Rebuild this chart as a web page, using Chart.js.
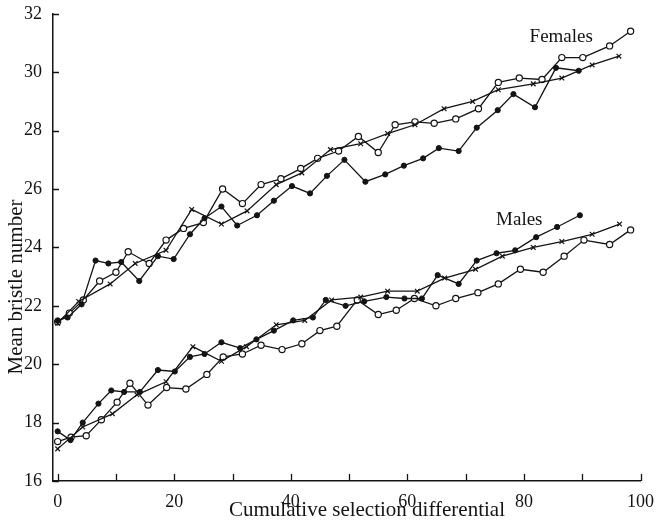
<!DOCTYPE html>
<html>
<head>
<meta charset="utf-8">
<script src="https://cdn.jsdelivr.net/npm/chart.js@4.4.0/dist/chart.umd.min.js"></script>
<style>
  html, body { margin: 0; padding: 0; background: #fff; }
  #wrap { width: 656px; height: 526px; }
</style>
</head>
<body>
<div id="wrap"><canvas id="chart" width="656" height="526"></canvas></div>
<script>
// Females, three lines (filled dots, open dots, crosses)
const femFilledX = [0, 1.7, 4.1, 6.5, 8.7, 10.9, 14.0, 17.2, 19.9, 22.7, 25.2, 28.1, 30.8, 34.2, 37.1, 40.2, 43.3, 46.2, 49.2, 52.8, 56.2, 59.4, 62.7, 65.4, 68.8, 71.9, 75.5, 78.2, 81.9, 85.5, 89.4];
const femFilledY = [21.5, 21.6, 22.05, 23.55, 23.45, 23.5, 22.85, 23.7, 23.6, 24.45, 25.0, 25.4, 24.75, 25.1, 25.6, 26.1, 25.85, 26.45, 27.0, 26.25, 26.5, 26.8, 27.05, 27.4, 27.3, 28.1, 28.7, 29.25, 28.8, 30.15, 30.05];
const femOpenX = [0, 2.0, 4.4, 7.2, 10.0, 12.1, 15.7, 18.6, 21.6, 25.0, 28.3, 31.7, 34.9, 38.3, 41.7, 44.6, 48.2, 51.6, 55.0, 57.9, 61.3, 64.6, 68.3, 72.2, 75.6, 79.2, 83.1, 86.5, 90.1, 94.7, 98.3];
const femOpenY = [21.45, 21.75, 22.2, 22.85, 23.15, 23.85, 23.45, 24.25, 24.65, 24.85, 26.0, 25.5, 26.15, 26.35, 26.7, 27.05, 27.3, 27.8, 27.25, 28.2, 28.3, 28.25, 28.4, 28.75, 29.65, 29.8, 29.75, 30.5, 30.5, 30.9, 31.4];
const femCrossX = [0, 3.6, 9.0, 13.3, 18.6, 23.0, 28.1, 32.5, 37.5, 41.9, 46.8, 52.0, 56.6, 61.3, 66.3, 71.2, 75.6, 81.6, 86.5, 91.7, 96.3];
const femCrossY = [21.4, 22.15, 22.75, 23.45, 23.9, 25.3, 24.8, 25.25, 26.15, 26.55, 27.35, 27.55, 27.9, 28.2, 28.75, 29.0, 29.4, 29.6, 29.8, 30.25, 30.55];

// Males
const maleFilledX = [0, 2.2, 4.3, 7.0, 9.2, 11.4, 14.1, 17.2, 20.1, 22.7, 25.2, 28.1, 31.3, 34.1, 37.1, 40.4, 43.8, 46.0, 49.4, 52.6, 56.4, 59.5, 62.5, 65.2, 68.8, 71.9, 75.3, 78.5, 82.1, 85.7, 89.6];
const maleFilledY = [17.7, 17.4, 18.0, 18.65, 19.1, 19.05, 19.05, 19.8, 19.75, 20.25, 20.35, 20.75, 20.55, 20.85, 21.15, 21.5, 21.6, 22.2, 22.0, 22.15, 22.3, 22.25, 22.25, 23.05, 22.75, 23.55, 23.8, 23.9, 24.35, 24.7, 25.1];
const maleOpenX = [0, 2.3, 4.9, 7.5, 10.2, 12.4, 15.5, 18.7, 22.0, 25.6, 28.4, 31.7, 34.9, 38.5, 41.9, 45.0, 47.9, 51.4, 55.0, 58.1, 61.2, 64.9, 68.3, 72.1, 75.6, 79.4, 83.3, 86.9, 90.3, 94.7, 98.3];
const maleOpenY = [17.35, 17.5, 17.55, 18.1, 18.7, 19.35, 18.6, 19.2, 19.15, 19.65, 20.25, 20.35, 20.65, 20.5, 20.7, 21.15, 21.3, 22.2, 21.7, 21.85, 22.25, 22.0, 22.25, 22.45, 22.75, 23.25, 23.15, 23.7, 24.25, 24.1, 24.6];
const maleCrossX = [0, 4.3, 9.4, 13.6, 18.6, 23.2, 28.1, 32.4, 37.5, 42.4, 47.0, 52.0, 56.6, 61.7, 66.4, 71.7, 76.3, 81.6, 86.5, 91.7, 96.4];
const maleCrossY = [17.1, 17.85, 18.3, 18.95, 19.4, 20.6, 20.1, 20.6, 21.35, 21.5, 22.2, 22.3, 22.5, 22.5, 22.95, 23.25, 23.7, 24.0, 24.2, 24.45, 24.8];

// axes
const xTickMarks = [0, 10, 20, 30, 40, 50, 60, 70, 80, 90, 100];
const xTickLabels = [0, 20, 40, 60, 80, 100];
const yTickLabels = [16, 18, 20, 22, 24, 26, 28, 30, 32];

// group labels, placed in data units
const groupLabels = [
  { text: 'Females', x: 86.4, y: 31.2 },
  { text: 'Males', x: 79.2, y: 24.95 },
];

const INK = '#141414';
const SERIF = '"Liberation Serif", "DejaVu Serif", serif';

const pairs = (xs, ys) => xs.map((x, i) => ({ x, y: ys[i] }));

const filled = { pointStyle: 'circle', pointRadius: 2.6, pointBackgroundColor: INK, pointBorderColor: INK, pointBorderWidth: 1 };
const open = { pointStyle: 'circle', pointRadius: 3.1, pointBackgroundColor: '#fff', pointBorderColor: INK, pointBorderWidth: 1.2 };
const cross = { pointStyle: 'crossRot', pointRadius: 3.3, pointBackgroundColor: INK, pointBorderColor: INK, pointBorderWidth: 1.2 };

function line(label, xs, ys, marker) {
  return {
    label,
    data: pairs(xs, ys),
    showLine: true,
    borderColor: INK,
    borderWidth: 1.3,
    fill: false,
    tension: 0,
    ...marker,
  };
}

// inward tick marks, group labels and axis titles
const decorations = {
  id: 'decorations',
  afterDraw(chart) {
    const { ctx, scales: { x, y } } = chart;
    ctx.save();
    ctx.strokeStyle = INK;
    ctx.lineWidth = 1.3;
    ctx.beginPath();
    xTickMarks.forEach((v) => {
      const px = Math.round(x.getPixelForValue(v)) + 0.5;
      ctx.moveTo(px, x.top);
      ctx.lineTo(px, x.top - 7);
    });
    yTickLabels.forEach((v) => {
      const py = Math.round(y.getPixelForValue(v)) + 0.5;
      ctx.moveTo(y.right, py);
      ctx.lineTo(y.right + 6, py);
    });
    ctx.stroke();

    ctx.fillStyle = INK;
    ctx.textAlign = 'center';
    ctx.textBaseline = 'middle';
    ctx.font = '19px ' + SERIF;
    groupLabels.forEach((g) => {
      ctx.fillText(g.text, x.getPixelForValue(g.x), y.getPixelForValue(g.y));
    });

    ctx.font = '21px ' + SERIF;
    ctx.fillText('Cumulative selection differential', 367, 510);
    ctx.translate(16, 287);
    ctx.rotate(-Math.PI / 2);
    ctx.fillText('Mean bristle number', 0, 0);
    ctx.restore();
  },
};

new Chart(document.getElementById('chart'), {
  type: 'scatter',
  data: {
    datasets: [
      line('Females filled', femFilledX, femFilledY, filled),
      line('Females cross', femCrossX, femCrossY, cross),
      line('Females open', femOpenX, femOpenY, open),
      line('Males filled', maleFilledX, maleFilledY, filled),
      line('Males cross', maleCrossX, maleCrossY, cross),
      line('Males open', maleOpenX, maleOpenY, open),
    ],
  },
  options: {
    responsive: false,
    animation: false,
    devicePixelRatio: 1,
    layout: { padding: { top: 11, right: 0, bottom: 0, left: 0 } },
    plugins: {
      legend: { display: false },
      tooltip: { enabled: false },
    },
    scales: {
      x: {
        type: 'linear',
        min: -0.8,
        max: 100,
        afterBuildTicks: (scale) => { scale.ticks = xTickLabels.map((value) => ({ value })); },
        afterFit: (scale) => { scale.height = 45; },
        grid: { display: false },
        border: { display: true, color: INK, width: 1.5 },
        ticks: { color: INK, font: { family: SERIF, size: 18 }, padding: 2, maxRotation: 0 },
      },
      y: {
        type: 'linear',
        min: 16,
        max: 32,
        afterBuildTicks: (scale) => { scale.ticks = yTickLabels.map((value) => ({ value })); },
        afterFit: (scale) => { scale.width = 53; },
        grid: { display: false },
        border: { display: true, color: INK, width: 1.5 },
        ticks: { color: INK, font: { family: SERIF, size: 18 }, padding: 3 },
      },
    },
  },
  plugins: [decorations],
});
</script>
</body>
</html>
